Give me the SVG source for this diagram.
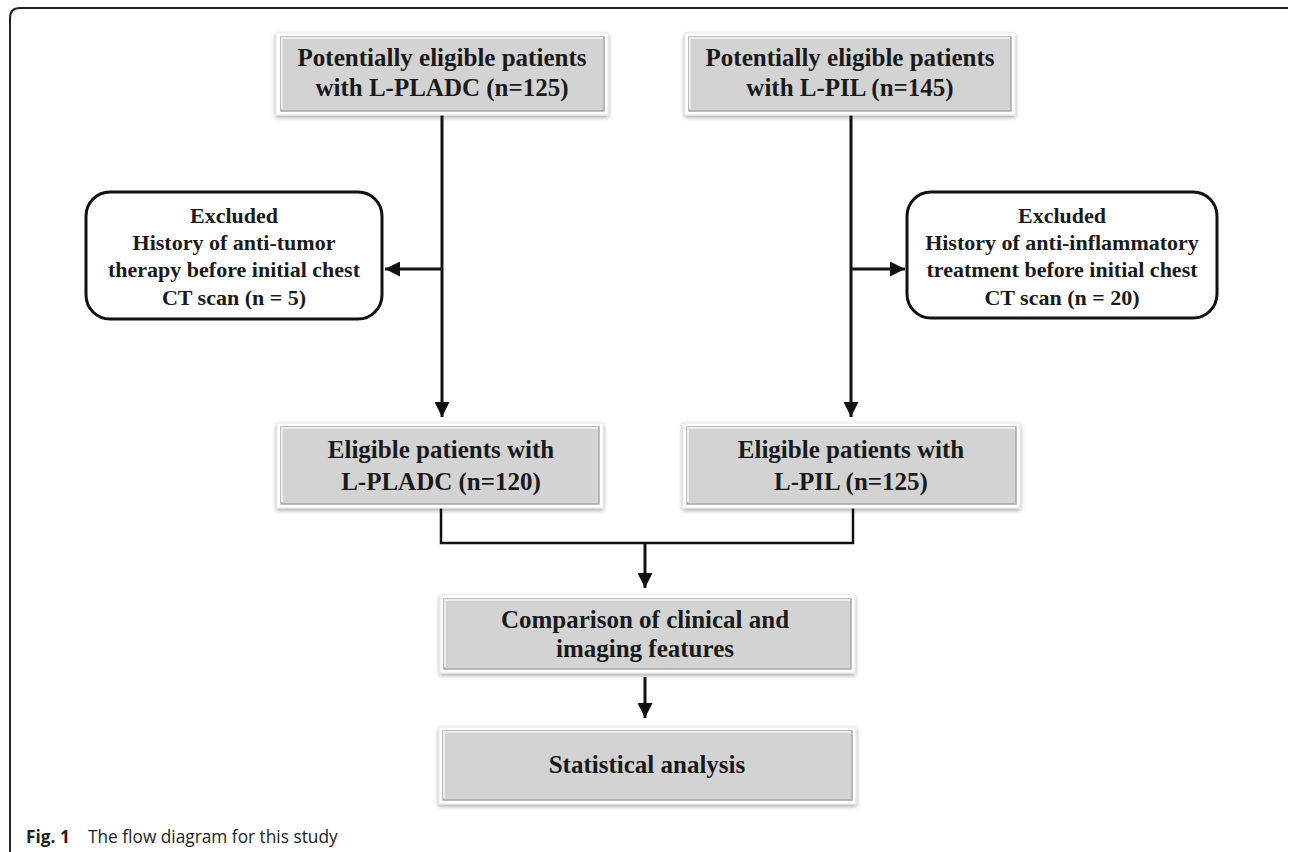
<svg xmlns="http://www.w3.org/2000/svg" width="1290" height="852" viewBox="0 0 1290 852">
<defs>
<style>
.frame{fill:none;stroke:#222;stroke-width:2}
.halo{fill:#fff;stroke:#e6e6e6;stroke-width:1}
.box{fill:#d3d3d3;stroke:#a8a8a8;stroke-width:1.5}
.hl{fill:none;stroke:#ececec;stroke-width:2}
.ex{fill:#fff;stroke:#111;stroke-width:3}
.t{font-family:"Liberation Serif","Times New Roman",serif;font-weight:bold;font-size:25px;fill:#1a1a1a;text-anchor:middle}
.te{font-family:"Liberation Serif","Times New Roman",serif;font-weight:bold;font-size:22px;fill:#1a1a1a;text-anchor:middle}
.ln{fill:none;stroke:#111;stroke-width:3}
.ln2{fill:none;stroke:#111;stroke-width:2.5}
.cap{font-family:"Open Sans","Noto Sans",sans-serif;font-size:17.3px;fill:#222}
</style>
<filter id="sh" x="-5%" y="-10%" width="110%" height="130%">
<feDropShadow dx="0" dy="2" stdDeviation="2" flood-color="#000" flood-opacity="0.35"/>
</filter>
<marker id="ah" viewBox="0 0 10 10" refX="10" refY="5" markerWidth="5" markerHeight="5" markerUnits="strokeWidth" orient="auto">
<path d="M0,0 L10,5 L0,10 Z" fill="#111"/>
</marker>
</defs>
<path class="frame" d="M10,860 V18 Q10,8 20,8 H1288"/>
<g id="connectors">
<path class="ln" d="M442,115 V417" marker-end="url(#ah)"/>
<path class="ln" d="M442,269 H385" marker-end="url(#ah)"/>
<path class="ln" d="M851,115 V417" marker-end="url(#ah)"/>
<path class="ln" d="M851,269 H905" marker-end="url(#ah)"/>
<path class="ln2" d="M441,508 V543 H853 V508"/>
<path class="ln" d="M645,543 V588" marker-end="url(#ah)"/>
<path class="ln" d="M645,677 V718" marker-end="url(#ah)"/>
</g>
<g id="n1">
<rect class="halo" x="276" y="33" width="332" height="82" filter="url(#sh)"/>
<rect class="box" x="281" y="37" width="323" height="74"/>
<path class="hl" d="M282,109 V38 H603"/>
<text class="t" x="442" y="66">Potentially eligible patients</text>
<text class="t" x="442" y="96">with L-PLADC (n=125)</text>
</g>
<g id="n2">
<rect class="halo" x="685" y="33" width="330" height="82" filter="url(#sh)"/>
<rect class="box" x="689" y="37" width="322" height="74"/>
<path class="hl" d="M690,109 V38 H1010"/>
<text class="t" x="850" y="66">Potentially eligible patients</text>
<text class="t" x="850" y="96">with L-PIL (n=145)</text>
</g>
<g id="n3">
<rect class="ex" x="86" y="192" width="296" height="127" rx="24"/>
<text class="te" x="234" y="223">Excluded</text>
<text class="te" x="234" y="250">History of anti-tumor</text>
<text class="te" x="234" y="277">therapy before initial chest</text>
<text class="te" x="234" y="305">CT scan (n = 5)</text>
</g>
<g id="n4">
<rect class="ex" x="907" y="192" width="310" height="126" rx="24"/>
<text class="te" x="1062" y="223">Excluded</text>
<text class="te" x="1062" y="250">History of anti-inflammatory</text>
<text class="te" x="1062" y="277">treatment before initial chest</text>
<text class="te" x="1062" y="305">CT scan (n = 20)</text>
</g>
<g id="n5">
<rect class="halo" x="277" y="423" width="326" height="85" filter="url(#sh)"/>
<rect class="box" x="281" y="427" width="318" height="77"/>
<path class="hl" d="M282,502 V428 H598"/>
<text class="t" x="441" y="458">Eligible patients with</text>
<text class="t" x="441" y="490">L-PLADC (n=120)</text>
</g>
<g id="n6">
<rect class="halo" x="683" y="423" width="337" height="85" filter="url(#sh)"/>
<rect class="box" x="687" y="427" width="329" height="77"/>
<path class="hl" d="M688,502 V428 H1015"/>
<text class="t" x="851" y="458">Eligible patients with</text>
<text class="t" x="851" y="490">L-PIL (n=125)</text>
</g>
<g id="n7">
<rect class="halo" x="440" y="595" width="415" height="78" filter="url(#sh)"/>
<rect class="box" x="444" y="599" width="407" height="70"/>
<path class="hl" d="M445,667 V600 H850"/>
<text class="t" x="645" y="628">Comparison of clinical and</text>
<text class="t" x="645" y="657">imaging features</text>
</g>
<g id="n8">
<rect class="halo" x="439" y="727" width="417" height="77" filter="url(#sh)"/>
<rect class="box" x="443" y="731" width="409" height="69"/>
<path class="hl" d="M444,798 V732 H851"/>
<text class="t" x="647" y="773">Statistical analysis</text>
</g>
<text class="cap" x="26" y="843" font-weight="bold" font-size="18px">Fig. 1</text>
<text class="cap" x="88" y="843">The flow diagram for this study</text>
</svg>
